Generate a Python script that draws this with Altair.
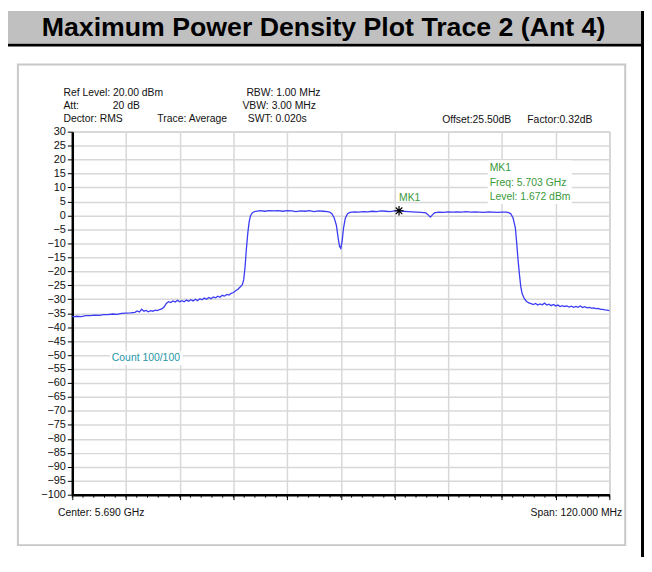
import altair as alt
import pandas as pd

# ---------------- data ----------------
freq_mhz = [
    5630.0, 5631.0, 5632.0, 5633.0, 5634.0, 5635.0, 5636.0, 5637.0, 5638.0, 5639.0,
    5640.0, 5641.0, 5642.0, 5643.0, 5644.0, 5644.5, 5645.0, 5645.5, 5646.0, 5646.5,
    5647.0, 5647.5, 5648.0, 5648.5, 5649.0, 5649.5, 5650.0, 5650.5, 5651.0, 5651.5,
    5652.0, 5652.5, 5653.0, 5653.5, 5654.0, 5654.5, 5655.0, 5655.5, 5656.0, 5656.5,
    5657.0, 5657.5, 5658.0, 5658.5, 5659.0, 5659.5, 5660.0, 5660.5, 5661.0, 5661.5,
    5662.0, 5662.5, 5663.0, 5663.5, 5664.0, 5664.5, 5665.0, 5665.5, 5666.0, 5666.5,
    5667.0, 5667.5, 5668.0, 5668.3, 5668.6, 5668.9, 5669.2, 5669.5, 5669.8, 5670.2,
    5670.6, 5671.0, 5672.0, 5673.0, 5674.0, 5675.0, 5676.0, 5677.0, 5678.0, 5679.0,
    5680.0, 5681.0, 5682.0, 5683.0, 5684.0, 5685.0, 5686.0, 5687.0, 5687.5, 5688.0,
    5688.5, 5689.0, 5689.4, 5689.7, 5690.0, 5690.3, 5690.6, 5691.0, 5691.5, 5692.0,
    5693.0, 5694.0, 5695.0, 5696.0, 5697.0, 5698.0, 5699.0, 5700.0, 5701.0, 5702.0,
    5703.0, 5704.0, 5705.0, 5706.0, 5707.0, 5708.0, 5709.0, 5709.5, 5710.0, 5710.5,
    5711.0, 5712.0, 5713.0, 5714.0, 5715.0, 5716.0, 5717.0, 5718.0, 5719.0, 5720.0,
    5721.0, 5722.0, 5723.0, 5724.0, 5725.0, 5726.0, 5727.0, 5727.5, 5728.0, 5728.5,
    5729.0, 5729.3, 5729.6, 5729.9, 5730.2, 5730.5, 5731.0, 5731.5, 5732.0, 5732.5,
    5733.0, 5733.5, 5734.0, 5734.5, 5735.0, 5735.5, 5736.0, 5736.5, 5737.0, 5737.5,
    5738.0, 5738.5, 5739.0, 5739.5, 5740.0, 5740.5, 5741.0, 5741.5, 5742.0, 5742.5,
    5743.0, 5743.5, 5744.0, 5744.5, 5745.0, 5745.5, 5746.0, 5746.5, 5747.0, 5747.5,
    5748.0, 5748.5, 5749.0, 5749.5, 5750.0,
]
level_dbm = [
    -36.3, -36.1, -36.2, -35.9, -35.9, -35.7, -35.8, -35.5, -35.5, -35.3,
    -35.4, -35.1, -35.0, -34.9, -34.7, -34.2, -34.6, -33.6, -34.3, -34.0,
    -34.5, -34.1, -34.3, -33.9, -34.1, -33.7, -33.5, -32.8, -31.5, -30.9,
    -31.2, -30.6, -31.0, -30.4, -30.9, -30.5, -30.9, -30.3, -30.7, -30.2,
    -30.6, -30.0, -30.5, -29.8, -30.2, -29.6, -30.0, -29.4, -29.8, -29.2,
    -29.5, -28.9, -29.3, -28.6, -28.9, -28.3, -28.5, -27.9, -27.6, -27.0,
    -26.4, -25.6, -24.8, -23.0, -18.5, -12.0, -6.5, -2.5, -0.2, 0.9,
    1.3, 1.5, 1.7, 1.5, 1.7, 1.6, 1.7, 1.5, 1.7, 1.6,
    1.4, 1.6, 1.5, 1.7, 1.4, 1.6, 1.5, 1.4, 1.2, 0.6,
    -0.8, -3.5, -8.0, -11.0, -11.8, -9.0, -4.5, -1.0, 0.6, 1.1,
    1.3, 1.2, 1.4, 1.3, 1.5, 1.4, 1.6, 1.5, 1.4, 1.6,
    1.672, 1.5, 1.4, 1.3, 1.2, 1.1, 0.9, 0.2, -0.6, 0.3,
    1.0, 1.2, 1.1, 1.3, 1.2, 1.3, 1.2, 1.4, 1.2, 1.3,
    1.2, 1.1, 1.3, 1.2, 1.1, 1.2, 1.2, 1.0, 0.5, -1.0,
    -4.5, -10.0, -16.0, -21.0, -25.5, -28.0, -29.8, -30.8, -31.3, -31.6,
    -31.9, -31.5, -32.1, -31.7, -32.0, -31.4, -32.1, -31.8, -32.3, -31.9,
    -32.4, -32.1, -32.6, -32.3, -32.6, -32.4, -32.8, -32.5, -32.9, -32.6,
    -32.9, -32.4, -33.0, -32.7, -33.1, -32.9, -33.2, -33.1, -33.4, -33.3,
    -33.6, -33.6, -33.8, -33.9, -34.1,
]
marker_freq = [5703.0]
marker_level = [1.672]

y_ticks = list(range(-100, 31, 5))
x_major = [5630 + 12 * i for i in range(11)]
x_minor = [5630 + 2.4 * i for i in range(51)]

header_texts = [
    ("Ref Level: 20.00 dBm", -9, -36),
    ("Att:", -9, -22.5),
    ("20 dB", 41, -22.5),
    ("Dector: RMS", -9, -9.5),
    ("Trace: Average", 86, -9.5),
    ("RBW: 1.00 MHz", 176, -36),
    ("VBW: 3.00 MHz", 172, -22.5),
    ("SWT: 0.020s", 177.5, -9.5),
    ("Offset:25.50dB", 374, -8.5),
    ("Factor:0.32dB", 460, -8.5),
]
marker_info = ["MK1", "Freq: 5.703 GHz", "Level: 1.672 dBm"]

# ---------------- chart ----------------
W, H = 543, 367
FONT = "Liberation Sans"
GREEN = "#3a9a3a"
one = pd.DataFrame({"a": [0]})

xs = alt.Scale(domain=[5630, 5750], nice=False, zero=False)
ys = alt.Scale(domain=[-100, 30], nice=False, zero=False)
x_axis = alt.Axis(values=x_major, labels=False, title="", tickSize=5, tickColor="black",
                  domainColor="black", domainWidth=2.5, grid=True, gridColor="#d8d8d8",
                  gridWidth=1.5)
y_axis = alt.Axis(values=y_ticks, title="", tickSize=5, tickColor="black", labelPadding=2,
                  labelFont=FONT, labelFontSize=11, labelColor="#111111", labelOverlap=False,
                  domainColor="black", domainWidth=2.5, grid=True, gridColor="#d8d8d8",
                  gridWidth=1.5, format="d")


def X(field):
    return alt.X(field, scale=xs, axis=x_axis)


def Y(field):
    return alt.Y(field, scale=ys, axis=y_axis)


def rect(x1, x2, y1, y2, **kw):
    return alt.Chart(one).mark_rect(**kw).encode(
        x=alt.value(x1), x2=alt.value(x2), y=alt.value(y1), y2=alt.value(y2))


def label(txt, x, y, align="left", baseline="alphabetic", size=10.5, color="#111111", **kw):
    return alt.Chart(one).mark_text(
        text=txt, align=align, baseline=baseline, font=FONT, fontSize=size,
        color=color, **kw).encode(x=alt.value(x), y=alt.value(y))


layers = []
# outer frame
layers.append(rect(-55, 559, -68, 418, fillOpacity=0, stroke="#c8c8c8", strokeWidth=2))
layers.append(rect(-65, 576, -122, -89, fill="#c0c0c0"))
layers.append(rect(-65, 578, -89, -86, fill="black"))
layers.append(rect(575, 578, -122, 430, fill="black"))
layers.append(label("Maximum Power Density Plot Trace 2 (Ant 4)", 254, -97, align="center",
                    size=27, color="black", fontWeight="bold"))
for t, x, y in header_texts:
    layers.append(label(t, x, y))

# trace
trace_df = pd.DataFrame({"f": freq_mhz, "p": level_dbm})
layers.append(alt.Chart(trace_df).mark_line(color="#3c3cf5", strokeWidth=1.3).encode(
    x=X("f:Q"), y=Y("p:Q")))

# minor ticks on the x axis
minor_df = pd.DataFrame({"f": x_minor})
layers.append(alt.Chart(minor_df).mark_rule(color="black", strokeWidth=1).encode(
    x=X("f:Q"), y=alt.value(H), y2=alt.value(H + 3)))

# marker
mk_df = pd.DataFrame({"f": marker_freq, "p": marker_level})
star = "M-1,0L1,0M0,-1L0,1M-0.7,-0.7L0.7,0.7M-0.7,0.7L0.7,-0.7"
layers.append(alt.Chart(mk_df).mark_point(shape=star, size=90, filled=False, color="black",
                                          strokeWidth=1.2, opacity=1).encode(
    x=X("f:Q"), y=Y("p:Q")))
layers.append(alt.Chart(mk_df).mark_text(text="MK1", align="left", baseline="middle", dy=-13,
                                         font=FONT, fontSize=10.5, color=GREEN).encode(
    x=X("f:Q"), y=Y("p:Q")))

# marker info box
layers.append(rect(420, 505, 29, 73, fill="white"))
for i, t in enumerate(marker_info):
    layers.append(label(t, 422, 37 + 14.5 * i, baseline="middle", color=GREEN))

# count label
layers.append(rect(38, 112, 222, 236, fill="white"))
layers.append(label("Count 100/100", 40, 229, baseline="middle", color="#2596a8"))

# bottom labels
layers.append(label("Center: 5.690 GHz", -14.5, 386, baseline="middle"))
layers.append(label("Span: 120.000 MHz", 556, 386, align="right", baseline="middle"))

chart = alt.layer(*layers).properties(
    width=W, height=H,
    autosize=alt.AutoSizeParams(type="none"),
    padding={"left": 65, "top": 122, "right": 35, "bottom": 63},
    background="white",
).configure_view(stroke="#9a9a9a", strokeWidth=1)

chart.save("out.html", embed_options={"renderer": "svg", "actions": False})
